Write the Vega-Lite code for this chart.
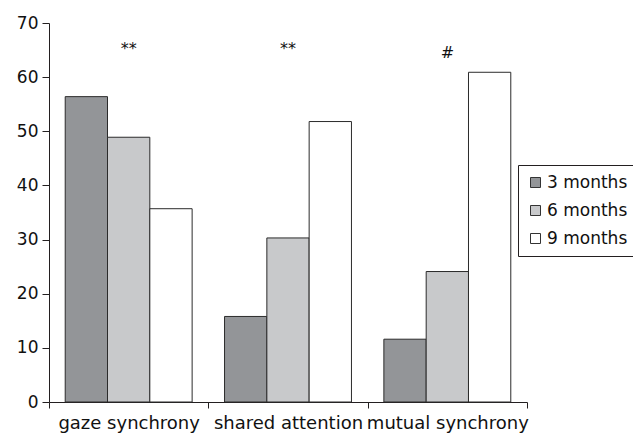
{
  "$schema": "https://vega.github.io/schema/vega-lite/v6.json",
  "autosize": "none",
  "width": 478,
  "height": 379,
  "padding": {"left": 49, "top": 23, "right": 106, "bottom": 33},
  "background": "white",
  "config": {
    "view": {"stroke": null},
    "font": "DejaVu Sans",
    "axis": {"domainColor": "#231f20", "tickColor": "#231f20", "labelColor": "#111", "grid": false, "labelFont": "DejaVu Sans"}
  },
  "layer": [
    {
      "data": {
        "values": [
          {"behavior": "gaze synchrony", "age": "3 months", "value": 56.4},
          {"behavior": "gaze synchrony", "age": "6 months", "value": 48.9},
          {"behavior": "gaze synchrony", "age": "9 months", "value": 35.7},
          {"behavior": "shared attention", "age": "3 months", "value": 15.8},
          {"behavior": "shared attention", "age": "6 months", "value": 30.3},
          {"behavior": "shared attention", "age": "9 months", "value": 51.8},
          {"behavior": "mutual synchrony", "age": "3 months", "value": 11.6},
          {"behavior": "mutual synchrony", "age": "6 months", "value": 24.1},
          {"behavior": "mutual synchrony", "age": "9 months", "value": 60.9}
        ]
      },
      "mark": {"type": "bar", "stroke": "#2b2b2b", "strokeWidth": 1},
      "encoding": {
        "x": {
          "field": "behavior", "type": "nominal",
          "sort": ["gaze synchrony", "shared attention", "mutual synchrony"],
          "scale": {"paddingInner": 0, "paddingOuter": 0},
          "axis": {"title": null, "labelAngle": 0, "labelFontSize": 18, "tickBand": "extent", "tickSize": 6, "labelPadding": 6, "domainWidth": 1, "labelLimit": 200}
        },
        "xOffset": {
          "field": "age", "type": "nominal",
          "scale": {"paddingInner": 0, "paddingOuter": 0.383}
        },
        "y": {
          "field": "value", "type": "quantitative",
          "scale": {"domain": [0, 70], "nice": false},
          "axis": {"title": null, "values": [0, 10, 20, 30, 40, 50, 60, 70], "labelFontSize": 17, "tickSize": 7, "labelPadding": 4, "domainWidth": 1}
        },
        "color": {
          "field": "age", "type": "nominal",
          "scale": {"domain": ["3 months", "6 months", "9 months"], "range": ["#939598", "#c8c9cb", "#ffffff"]},
          "legend": {
            "title": null, "orient": "none", "legendX": 469, "legendY": 142,
            "symbolType": "square", "symbolSize": 100, "symbolStrokeColor": "#333", "symbolStrokeWidth": 1,
            "labelFontSize": 17, "labelFont": "DejaVu Sans", "labelColor": "#111", "labelOffset": 3,
            "rowPadding": 10, "padding": 9, "strokeColor": "#231f20", "fillColor": "white"
          }
        }
      }
    },
    {
      "data": {
        "values": [
          {"behavior": "gaze synchrony", "label": "**", "value": 64.2},
          {"behavior": "shared attention", "label": "**", "value": 64.2},
          {"behavior": "mutual synchrony", "label": "#", "value": 63.6}
        ]
      },
      "mark": {"type": "text", "fontSize": 16, "font": "DejaVu Sans", "color": "#111", "baseline": "alphabetic"},
      "encoding": {
        "x": {"field": "behavior", "type": "nominal", "sort": ["gaze synchrony", "shared attention", "mutual synchrony"]},
        "y": {"field": "value", "type": "quantitative"},
        "text": {"field": "label"}
      }
    }
  ]
}
